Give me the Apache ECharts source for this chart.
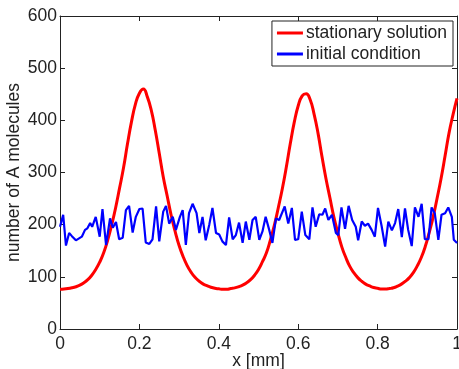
<!DOCTYPE html>
<html>
<head>
<meta charset="utf-8">
<script src="https://cdn.jsdelivr.net/npm/echarts@6/dist/echarts.min.js"></script>
<style>html,body{margin:0;padding:0;background:#fff;}#c{width:459px;height:369px;}</style>
</head>
<body>
<div id="c"></div>
<script>
const seriesNames = ['stationary solution', 'initial condition'];
const xTicks = [0, 0.2, 0.4, 0.6, 0.8, 1];
const yTicks = [0, 100, 200, 300, 400, 500, 600];

const xRed = [0,0.01,0.02,0.03,0.04,0.05,0.06,0.07,0.08,0.09,0.10,0.11,0.12,0.13,0.14,0.15,0.16,0.17,0.18,0.19,0.20,0.21,0.22,0.23,0.24,0.25,0.26,0.27,0.28,0.29,0.30,0.31,0.32,0.33,0.34,0.35,0.36,0.37,0.38,0.39,0.40,0.41,0.42,0.43,0.44,0.45,0.46,0.47,0.48,0.49,0.50,0.51,0.52,0.53,0.54,0.55,0.56,0.57,0.58,0.59,0.60,0.61,0.62,0.63,0.64,0.65,0.66,0.67,0.68,0.69,0.70,0.71,0.72,0.73,0.74,0.75,0.76,0.77,0.78,0.79,0.80,0.81,0.82,0.83,0.84,0.85,0.86,0.87,0.88,0.89,0.90,0.91,0.92,0.93,0.94,0.95,0.96,0.97,0.98,0.99,1.00];
const yRed = [76,76.5,77.5,79,81,84,88.5,94.5,103,114,128,146,170,199,232,270,309,355,397,431,452,460,445,419,381,337,292,255,218,187,160,139,122,109,99,92,86.5,83,80,78,77,76,76,77.5,78.8,81,84,88.5,94.5,103,114,129,146,171,199,233,269,310,355,396,428,447,451,440,412,375,330,288,251,214,184,157,137,120,108,98.5,91.5,86,82.5,79.5,78,76.5,76.5,77.5,79,82,86,91.5,98.5,108,121,137,158,185,215,251,289,332,376,411,442];

const xBlue = [0,0.008,0.015,0.023,0.030,0.040,0.045,0.055,0.063,0.069,0.076,0.081,0.090,0.100,0.107,0.116,0.126,0.133,0.141,0.149,0.158,0.166,0.174,0.183,0.191,0.200,0.208,0.216,0.225,0.233,0.242,0.250,0.260,0.267,0.275,0.284,0.292,0.302,0.309,0.317,0.325,0.334,0.344,0.351,0.359,0.367,0.376,0.384,0.393,0.401,0.409,0.418,0.426,0.435,0.443,0.451,0.460,0.468,0.477,0.485,0.493,0.502,0.510,0.518,0.527,0.535,0.544,0.552,0.566,0.575,0.584,0.592,0.600,0.609,0.618,0.628,0.636,0.644,0.653,0.661,0.668,0.676,0.685,0.695,0.701,0.709,0.718,0.727,0.736,0.745,0.751,0.760,0.768,0.776,0.785,0.793,0.801,0.810,0.819,0.827,0.836,0.844,0.852,0.861,0.869,0.877,0.886,0.894,0.903,0.911,0.919,0.928,0.936,0.944,0.953,0.961,0.970,0.978,0.987,0.992,1.000];
const yBlue = [196,219,160,184,178,170,170,177,190,193,203,196,215,177,230,161,212,194,205,172,175,228,236,185,215,230,231,166,163,172,235,168,225,236,202,215,190,215,228,161,222,240,222,184,215,170,200,232,184,181,168,161,214,172,180,204,165,206,171,209,215,171,187,215,190,165,212,209,235,202,232,171,172,225,180,172,233,196,220,219,231,209,219,184,180,233,192,236,209,196,170,206,198,202,190,177,232,198,158,206,189,203,230,176,231,190,159,233,215,240,172,172,233,222,171,219,222,233,215,171,165];

const FONT = 'Liberation Sans, Arial, sans-serif';
const TXT = '#222';

const redData = xRed.map((x, i) => [x, yRed[i]]);
const blueData = xBlue.map((x, i) => [x, yBlue[i]]);

const chart = echarts.init(document.getElementById('c'), null, {renderer: 'canvas'});
const tickStyle = {show: true, inside: true, length: 5, lineStyle: {color: TXT, width: 1}};
const lineStyleAxis = {show: true, onZero: false, lineStyle: {color: TXT, width: 1}};
chart.setOption({
  animation: false,
  backgroundColor: '#fff',
  grid: {left: 60, right: 2, top: 16, bottom: 40, containLabel: false, outerBoundsMode: 'none'},
  xAxis: [{
    type: 'value', min: xTicks[0], max: xTicks[xTicks.length - 1], interval: 0.2,
    position: 'bottom',
    name: 'x [mm]', nameLocation: 'middle', nameGap: 23, nameMoveOverlap: false,
    nameTextStyle: {fontFamily: FONT, fontSize: 17.5, color: TXT},
    axisLine: lineStyleAxis, axisTick: tickStyle,
    axisLabel: {fontFamily: FONT, fontSize: 17.5, color: TXT, margin: 6},
    splitLine: {show: false}
  }, {
    type: 'value', min: xTicks[0], max: xTicks[xTicks.length - 1], interval: 0.2,
    position: 'top',
    axisLine: lineStyleAxis, axisTick: tickStyle,
    axisLabel: {show: false}, splitLine: {show: false}
  }],
  yAxis: [{
    type: 'value', min: yTicks[0], max: yTicks[yTicks.length - 1], interval: 100,
    position: 'left',
    name: 'number of A molecules', nameLocation: 'middle', nameGap: 37, nameMoveOverlap: false,
    nameTextStyle: {fontFamily: FONT, fontSize: 17.5, color: TXT},
    axisLine: lineStyleAxis, axisTick: tickStyle,
    axisLabel: {fontFamily: FONT, fontSize: 17.5, color: TXT, margin: 3},
    splitLine: {show: false}
  }, {
    type: 'value', min: yTicks[0], max: yTicks[yTicks.length - 1], interval: 100,
    position: 'right',
    axisLine: lineStyleAxis, axisTick: tickStyle,
    axisLabel: {show: false}, splitLine: {show: false}
  }],
  legend: {
    orient: 'vertical', right: 6, top: 21,
    data: [{name: seriesNames[0], icon: 'rect'}, {name: seriesNames[1], icon: 'rect'}],
    itemWidth: 26, itemHeight: 3, itemGap: 3,
    padding: [3, 6, 3, 5],
    borderColor: TXT, borderWidth: 1, backgroundColor: '#fff',
    textStyle: {fontFamily: FONT, fontSize: 17.5, color: TXT, padding: [0, 0, 0, -2]}
  },
  series: [{
    name: seriesNames[0], type: 'line', xAxisIndex: 0, yAxisIndex: 0,
    data: redData, symbol: 'none', smooth: true,
    lineStyle: {color: '#ff0000', width: 3}, itemStyle: {color: '#ff0000'}, z: 2
  }, {
    name: seriesNames[1], type: 'line', xAxisIndex: 0, yAxisIndex: 0,
    data: blueData, symbol: 'none',
    lineStyle: {color: '#0000ff', width: 2.2}, itemStyle: {color: '#0000ff'}, z: 3
  }]
});
</script>
</body>
</html>
